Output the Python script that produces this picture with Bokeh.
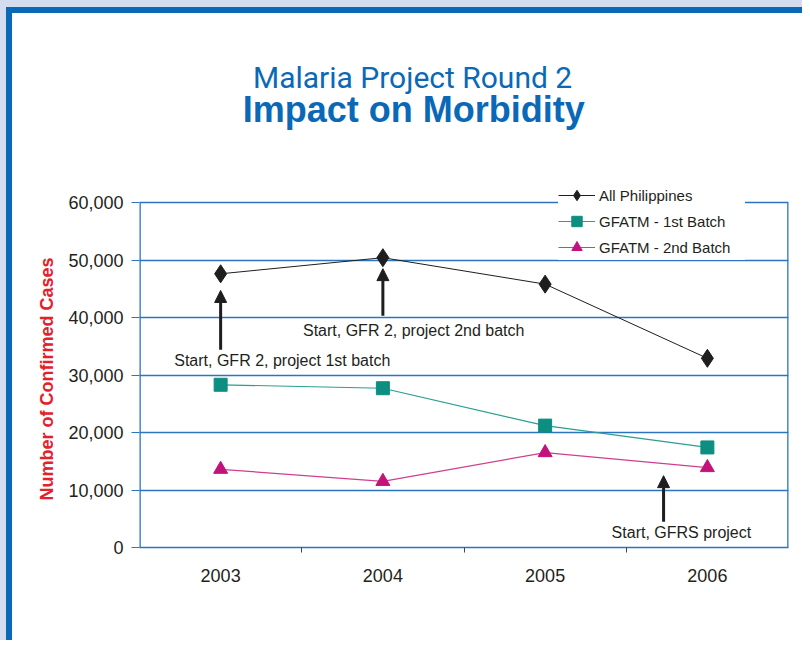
from bokeh.plotting import figure
from bokeh.layouts import column
from bokeh.models import (Legend, LegendItem, FixedTicker, NumeralTickFormatter,
                          Label, Arrow, NormalHead, Range1d, Title)
from bokeh.embed import file_html
from bokeh.resources import INLINE

# ---- data ----
years = ["2003", "2004", "2005", "2006"]
all_philippines = [47600, 50400, 45800, 32900]
gfatm_batch1 = [28300, 27700, 21200, 17400]
gfatm_batch2 = [13600, 11500, 16500, 13900]
y_ticks = [0, 10000, 20000, 30000, 40000, 50000, 60000]

title_line1 = "Malaria Project Round 2"
title_line2 = "Impact on Morbidity"
y_title = "Number of Confirmed Cases"

notes = ["Start, GFR 2, project 1st batch", "Start, GFR 2, project 2nd batch", "Start, GFRS project"]
note_x = [0.38, 1.19, 2.84]
note_y = [32500, 37700, 2600]
arrow_x = [0.0, 1.0, 2.73]
arrow_y_start = [34400, 40300, 4500]
arrow_y_end = [44700, 48500, 12500]

# ---- styles ----
BLUE = "#0a69b7"
GRID = "#2c74bf"
TEXT = "#231f20"
FONT = "Liberation Sans"
TEAL_M, TEAL_L = "#0c8e80", "#2a9e92"
MAG_M, MAG_L = "#c3127b", "#cf3f8e"

xs = list(range(len(years)))
x_lo, x_hi = -0.5, len(years) - 0.5
y_top = y_ticks[-1]

# frame reaches the top of the canvas so the heading can live inside it
p = figure(width=796, height=633, output_backend="svg", toolbar_location=None, title=None,
           x_range=Range1d(x_lo, x_hi), y_range=Range1d(0, 92870),
           min_border_left=127, min_border_right=20, min_border_top=0, min_border_bottom=99,
           background_fill_color="white", border_fill_color="white",
           outline_line_color=None)
p.styles = {"border-left": f"6px solid {BLUE}", "border-top": f"6px solid {BLUE}"}

# heading
p.add_layout(Label(x=1.183, y=81800, text=title_line1, text_align="center",
                   text_baseline="alphabetic", text_font="Roboto", text_font_size="30px",
                   text_color=BLUE))
p.add_layout(Label(x=1.19, y=76200, text=title_line2, text_align="center",
                   text_baseline="alphabetic", text_font=FONT, text_font_size="36px",
                   text_font_style="bold", text_color=BLUE))

# axes
xa = p.xaxis[0]
xa.ticker = FixedTicker(ticks=xs, minor_ticks=[i + 0.5 for i in xs[:-1]])
xa.major_label_overrides = {i: y for i, y in zip(xs, years)}
xa.major_tick_line_color = None
xa.minor_tick_line_color = "#444444"
xa.minor_tick_out = 5
xa.minor_tick_in = 0
xa.axis_line_color = GRID
xa.axis_line_width = 1.3
xa.major_label_text_font = FONT
xa.major_label_text_font_size = "18px"
xa.major_label_text_color = TEXT
xa.major_label_standoff = 15

ya = p.yaxis[0]
ya.ticker = FixedTicker(ticks=y_ticks)
ya.formatter = NumeralTickFormatter(format="0,0")
ya.major_tick_line_color = GRID
ya.major_tick_out = 8
ya.major_tick_in = 0
ya.minor_tick_line_color = None
ya.axis_line_color = None
ya.major_label_text_font = FONT
ya.major_label_text_font_size = "18px"
ya.major_label_text_color = TEXT
ya.major_label_standoff = 8

# y-axis title as a left-side title, placed over the 0-60,000 span
p.add_layout(Title(text=y_title, align="left", offset=47, standoff=17,
                   text_font=FONT, text_font_size="18px", text_font_style="bold",
                   text_color="#e5202a"), "left")

p.xgrid.grid_line_color = None
p.ygrid.grid_line_color = GRID
p.ygrid.grid_line_width = 1.3

# left axis line and right frame edge, only up to the top tick
p.segment(x0=[x_lo, x_hi], y0=[0, 0], x1=[x_lo, x_hi], y1=[y_top, y_top],
          line_color=GRID, line_width=2.6)

# series
l1 = p.line(xs, all_philippines, line_color="#1e1e1e", line_width=1)
m1 = p.scatter(xs, all_philippines, marker="diamond", size=18, fill_color="#1e1e1e", line_color="#1e1e1e")
l2 = p.line(xs, gfatm_batch1, line_color=TEAL_L, line_width=1.2)
m2 = p.scatter(xs, gfatm_batch1, marker="square", size=13, fill_color=TEAL_M, line_color=TEAL_M)
l3 = p.line(xs, gfatm_batch2, line_color=MAG_L, line_width=1.2)
m3 = p.scatter(xs, gfatm_batch2, marker="triangle", size=14, fill_color=MAG_M, line_color=MAG_M)

# annotations
for ax, y0, y1 in zip(arrow_x, arrow_y_start, arrow_y_end):
    p.add_layout(Arrow(x_start=ax, y_start=y0, x_end=ax, y_end=y1, line_color="#1e1e1e",
                       line_width=3,
                       end=NormalHead(size=12, fill_color="#1e1e1e", line_color="#1e1e1e")))
for t, nx, ny in zip(notes, note_x, note_y):
    p.add_layout(Label(x=nx, y=ny, text=t, text_align="center", text_baseline="middle",
                       text_font=FONT, text_font_size="16px", text_color=TEXT))

legend = Legend(items=[LegendItem(label="All Philippines", renderers=[l1, m1]),
                       LegendItem(label="GFATM - 1st Batch", renderers=[l2, m2]),
                       LegendItem(label="GFATM - 2nd Batch", renderers=[l3, m3])],
                location=(419, 287), border_line_color=None, background_fill_color="white",
                background_fill_alpha=1.0, label_text_font=FONT, label_text_font_size="15px",
                label_text_color=TEXT, glyph_width=37, glyph_height=26, spacing=0,
                padding=3, margin=0, label_standoff=4, label_width=146)
p.add_layout(legend, "center")

root = column(p, styles={"border-left": "6px solid #d3ddef", "border-top": "7px solid #d3ddef"})

open("out.html", "w").write(file_html(root, INLINE))
